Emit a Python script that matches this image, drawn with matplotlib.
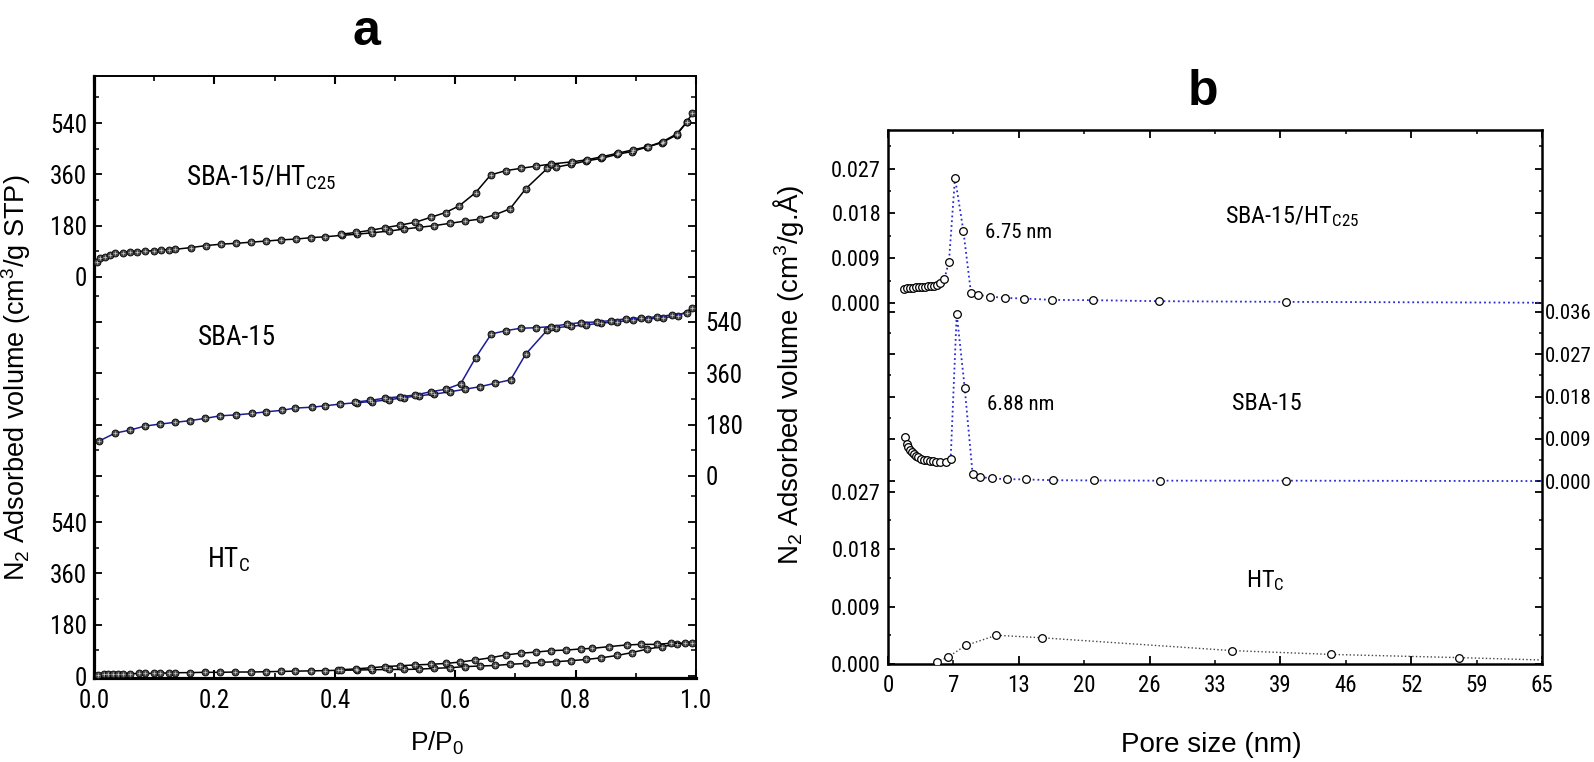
import numpy as np
import matplotlib
matplotlib.use('Agg')
import matplotlib.pyplot as plt
from matplotlib import font_manager

# ---------------- data: panel a, N2 isotherms (cm3/g STP vs P/P0) ----------------
htc25_p_ads = [0.005, 0.010, 0.018, 0.027, 0.035, 0.049, 0.060, 0.071, 0.085, 0.099, 0.111, 0.124,
               0.135, 0.161, 0.186, 0.211, 0.236, 0.261, 0.286, 0.311, 0.336, 0.361, 0.384, 0.412,
               0.437, 0.462, 0.490, 0.515, 0.540, 0.565, 0.591, 0.616, 0.641, 0.666, 0.691, 0.717,
               0.753, 0.767, 0.792, 0.818, 0.843, 0.869, 0.893, 0.918, 0.943, 0.968, 0.985, 0.994]
htc25_v_ads = [54, 66, 71, 77, 83, 85, 87, 89, 91, 92, 95, 96,
               97, 103, 110, 115, 118, 122, 126, 130, 133, 138, 141, 146,
               150, 155, 161, 168, 174, 180, 188, 196, 203, 218, 239, 309,
               381, 385, 395, 407, 416, 430, 440, 455, 471, 498, 545, 574]
htc25_p_des = [0.985, 0.968, 0.945, 0.920, 0.895, 0.870, 0.844, 0.819, 0.794, 0.759, 0.735, 0.709,
               0.684, 0.659, 0.634, 0.607, 0.584, 0.559, 0.534, 0.509, 0.484, 0.460, 0.435, 0.410]
htc25_v_des = [544, 502, 475, 457, 446, 434, 422, 411, 404, 396, 389, 381,
               373, 358, 296, 250, 226, 209, 192, 182, 173, 164, 156, 150]

sba_p_ads = [0.009, 0.035, 0.060, 0.085, 0.110, 0.135, 0.160, 0.185, 0.210, 0.236,
             0.262, 0.286, 0.312, 0.334, 0.362, 0.384, 0.409, 0.437, 0.462, 0.490,
             0.515, 0.540, 0.565, 0.591, 0.616, 0.641, 0.666, 0.692, 0.717, 0.753,
             0.767, 0.792, 0.818, 0.843, 0.869, 0.895, 0.920, 0.945, 0.970, 0.994]
sba_v_ads = [123, 150, 161, 175, 182, 188, 194, 202, 211, 214,
             219, 225, 230, 238, 241, 246, 252, 257, 261, 267,
             275, 281, 287, 295, 304, 313, 325, 337, 427, 512,
             520, 525, 530, 536, 541, 547, 551, 555, 561, 588]
sba_p_des = [0.985, 0.960, 0.935, 0.908, 0.884, 0.859, 0.835, 0.809, 0.785, 0.759, 0.735,
             0.709, 0.685, 0.660, 0.634, 0.609, 0.584, 0.559, 0.534, 0.509, 0.484, 0.459, 0.434]
sba_v_des = [571, 565, 558, 554, 551, 545, 540, 538, 532, 524, 520,
             518, 510, 498, 415, 323, 304, 295, 284, 278, 273, 265, 259]

htc_p_ads = [0.007, 0.016, 0.024, 0.032, 0.040, 0.049, 0.060, 0.074, 0.085, 0.099,
             0.110, 0.124, 0.135, 0.160, 0.185, 0.210, 0.235, 0.260, 0.285, 0.310,
             0.334, 0.360, 0.384, 0.406, 0.437, 0.462, 0.490, 0.515, 0.540, 0.565,
             0.591, 0.616, 0.641, 0.666, 0.691, 0.717, 0.742, 0.767, 0.793, 0.818,
             0.843, 0.869, 0.893, 0.918, 0.943, 0.968, 0.994]
htc_v_ads = [3.5, 5.8, 7, 7, 7, 8, 8, 9, 9, 9.5,
             10.5, 10.5, 11.5, 12, 13, 13, 14, 14, 15, 16,
             17, 18, 19, 20, 21, 22, 23, 23, 24, 27,
             29, 33, 35, 37, 41, 44, 48, 50, 54, 58,
             64, 72, 82, 94, 103, 111, 117]
htc_p_des = [0.982, 0.958, 0.935, 0.908, 0.885, 0.855, 0.828, 0.809, 0.784, 0.759, 0.735, 0.709,
             0.684, 0.659, 0.633, 0.608, 0.584, 0.559, 0.534, 0.509, 0.484, 0.460, 0.435, 0.410]
htc_v_des = [115, 115, 111, 111, 109, 103, 97, 95, 91, 89, 84, 80,
             74, 64, 56, 49, 44, 41, 39, 36, 33, 29, 25, 22]

iso_ticks = [0, 180, 360, 540]
pp0_ticks = [0.0, 0.2, 0.4, 0.6, 0.8, 1.0]

# ---------------- data: panel b, pore size distribution (cm3/g.A vs nm) ----------------
htc25_pore = [1.6, 1.9, 2.2, 2.5, 2.8, 3.1, 3.4, 3.7, 4.0, 4.3, 4.6, 4.9, 5.17, 5.6, 6.06,
              6.66, 7.49, 8.25, 8.98, 10.14, 11.63, 13.55, 16.33, 20.4, 26.9, 39.6, 70.0]
htc25_psd = [0.0028, 0.0029, 0.0030, 0.0030, 0.0031, 0.0031, 0.0032, 0.0032, 0.0033, 0.0033,
             0.0034, 0.0036, 0.0041, 0.0048, 0.0083, 0.0252, 0.0145, 0.00195, 0.0016, 0.00127,
             0.0010, 0.00087, 0.0006, 0.00054, 0.00034, 0.0002, 0.0]
sba_pore = [1.69, 1.85, 2.0, 2.2, 2.4, 2.6, 2.8, 3.0, 3.3, 3.6, 3.9, 4.2, 4.5, 4.8, 5.17,
            5.76, 6.23, 6.83, 7.62, 8.41, 9.14, 10.3, 11.8, 13.7, 16.4, 20.5, 27.0, 39.6, 70.0]
sba_psd = [0.0093, 0.0080, 0.0072, 0.0066, 0.0061, 0.0057, 0.0054, 0.0051, 0.0048, 0.0046,
           0.0044, 0.0043, 0.0042, 0.0041, 0.0041, 0.0040, 0.0048, 0.0356, 0.0199, 0.0015,
           0.0009, 0.00057, 0.00043, 0.00036, 0.0002, 0.00015, 0.0001, 0.0001, 0.0]
htc_pore = [4.84, 5.93, 7.72, 10.77, 15.34, 34.16, 44.03, 56.75, 70.0]
htc_psd = [0.00036, 0.00105, 0.0029, 0.0045, 0.0041, 0.0021, 0.0015, 0.0010, 0.0004]

pore_ticks = [0, 6.5, 13, 19.5, 26, 32.5, 39, 45.5, 52, 58.5, 65]
pore_labels = ['0', '7', '13', '20', '26', '33', '39', '46', '52', '59', '65']
psd_ticks_3 = [0.0, 0.009, 0.018, 0.027]
psd_ticks_4 = [0.0, 0.009, 0.018, 0.027, 0.036]

# ---------------- fonts ----------------
names = {f.name for f in font_manager.fontManager.ttflist}
narrow = 'Liberation Sans'
for cand in ['Liberation Sans Narrow', 'Arimo Narrow', 'Roboto Condensed', 'Archivo Narrow',
             'PT Sans Narrow', 'Pragati Narrow']:
    if cand in names:
        narrow = cand
        break
regular = 'Liberation Sans'
plt.rcParams['font.family'] = [narrow, 'DejaVu Sans']
plt.rcParams['mathtext.fontset'] = 'custom'
plt.rcParams['mathtext.rm'] = narrow
plt.rcParams['mathtext.it'] = narrow
plt.rcParams['mathtext.bf'] = narrow
plt.rcParams['mathtext.default'] = 'regular'

W, H = 1594, 762
fig = plt.figure(figsize=(W / 100, H / 100), dpi=100)


def px_rect(l, t, r, b):
    return [l / W, 1 - b / H, (r - l) / W, (b - t) / H]


def ftext(x, y, s, **kw):
    return fig.text(x / W, 1 - y / H, s, **kw)


def overlay(base, rect, ylim):
    ax = fig.add_axes(rect)
    ax.set_xlim(base.get_xlim())
    ax.set_ylim(*ylim)
    ax.patch.set_visible(False)
    for sp in ax.spines.values():
        sp.set_visible(False)
    ax.tick_params(axis='x', which='both', bottom=False, top=False, labelbottom=False)
    return ax


def yblock(ax, major, minor, fmt, side, size, mlen, nlen, pad):
    ax.set_yticks(major, [fmt.format(v) for v in major])
    ax.set_yticks(minor, minor=True)
    ax.tick_params(axis='y', which='both', direction='in', left=True, right=True,
                   labelleft=(side == 'left'), labelright=(side == 'right'),
                   labelsize=size, pad=pad)
    ax.tick_params(axis='y', which='major', length=mlen, width=1.3)
    ax.tick_params(axis='y', which='minor', length=nlen, width=1.1)


# ================= panel a =================
rect_a = px_rect(94, 76, 696, 678)
ax_a = fig.add_axes(rect_a)
ax_a.set_xlim(0, 1.0)
ax_a.set_ylim(-7, 2105)
ax_a_mid = overlay(ax_a, rect_a, (-709, 1403))
ax_a_top = overlay(ax_a, rect_a, (-1407, 705))

iso_minor = [90, 270, 450, 630]
yblock(ax_a, iso_ticks, iso_minor, '{:d}', 'left', 18, 6, 3.5, 5)
yblock(ax_a_mid, iso_ticks, iso_minor, '{:d}', 'right', 18, 6, 3.5, 7)
yblock(ax_a_top, iso_ticks, iso_minor, '{:d}', 'left', 18, 6, 3.5, 5)

ax_a.set_xticks(pp0_ticks, ['{:.1f}'.format(v) for v in pp0_ticks])
ax_a.set_xticks(np.arange(0.1, 1.0, 0.2), minor=True)
ax_a.tick_params(axis='x', which='both', direction='in', top=True, bottom=True,
                 labelsize=18, pad=8)
ax_a.tick_params(axis='x', which='major', length=6, width=1.5)
ax_a.tick_params(axis='x', which='minor', length=3.5, width=1.2)
for s in ['left', 'bottom']:
    ax_a.spines[s].set_linewidth(2.3)
for s in ['top', 'right']:
    ax_a.spines[s].set_linewidth(1.4)


def iso(ax, p, v, color):
    ax.plot(p, v, '-', color=color, lw=1.1, marker='o', ms=5, mfc='#4a4a4a',
            mec='black', mew=0.6, zorder=3)
    ax.plot(p, v, ls='none', marker='+', ms=3.4, mec='#c8c8c8', mew=0.5, zorder=4)


iso(ax_a_top, htc25_p_ads, htc25_v_ads, 'black')
iso(ax_a_top, htc25_p_des, htc25_v_des, 'black')
iso(ax_a_mid, sba_p_ads, sba_v_ads, '#1c1c96')
iso(ax_a_mid, sba_p_des, sba_v_des, '#1c1c96')
iso(ax_a, htc_p_ads, htc_v_ads, 'black')
iso(ax_a, htc_p_des, htc_v_des, 'black')

ftext(186, 185, 'SBA-15/HT$_{C25}$', fontsize=19.5, va='baseline')
ftext(198, 345, 'SBA-15', fontsize=19.5, va='baseline')
ftext(207, 567, 'HT$_{C}$', fontsize=19.5, va='baseline')
ftext(16, 378, 'N$_2$ Adsorbed volume (cm$^3$/g STP)', fontsize=19.5, rotation=90,
      ha='center', va='center', family=regular)
ftext(437, 743, 'P/P$_0$', fontsize=19, ha='center', va='center', family=regular)
ftext(366, 45, 'a', fontsize=36, fontweight='bold', ha='center', va='baseline',
      family=regular)

# ================= panel b =================
rect_b = px_rect(888, 130, 1542, 664)
ax_b = fig.add_axes(rect_b)
ax_b.set_xlim(0, 65)
ax_b.set_ylim(0, 0.0836)
ax_b_mid = overlay(ax_b, rect_b, (-0.0389, 0.0747))
ax_b_top = overlay(ax_b, rect_b, (-0.0727, 0.0348))

yblock(ax_b, psd_ticks_3, [0.0045, 0.0135, 0.0225], '{:.3f}', 'left', 16, 5, 2.5, 5)
yblock(ax_b_mid, psd_ticks_4, [0.0045, 0.0135, 0.0225, 0.0315], '{:.3f}', 'right', 15, 5, 2.5, 2)
yblock(ax_b_top, psd_ticks_3, [0.0045, 0.0135, 0.0225, 0.0315], '{:.3f}', 'left', 16, 5, 2.5, 5)

ax_b.set_xticks(pore_ticks[::2], pore_labels[::2])
ax_b.set_xticks(pore_ticks[1::2], pore_labels[1::2], minor=True)
ax_b.tick_params(axis='x', which='both', direction='in', top=True, bottom=True,
                 labelsize=16.5, pad=7)
ax_b.tick_params(axis='x', which='major', length=5.5, width=1.3)
ax_b.tick_params(axis='x', which='minor', length=3, width=1.1)
for s in ax_b.spines.values():
    s.set_linewidth(1.8)

psd_marker = dict(marker='o', ms=5.5, mfc='white', mec='black', mew=0.9, zorder=3)
ax_b_top.plot(htc25_pore, htc25_psd, ls=':', color='#2b2bd6', lw=1.3, **psd_marker)
ax_b_mid.plot(sba_pore, sba_psd, ls=':', color='#2b2bd6', lw=1.3, **psd_marker)
ax_b.plot(htc_pore, htc_psd, ls=':', color='#444444', lw=1.0, **psd_marker)

ftext(985, 238, '6.75 nm', fontsize=15, va='baseline')
ftext(987, 410, '6.88 nm', fontsize=15, va='baseline')
ftext(1225, 223, 'SBA-15/HT$_{C25}$', fontsize=17.5, va='baseline')
ftext(1232, 410, 'SBA-15', fontsize=17.5, va='baseline')
ftext(1246, 587, 'HT$_{C}$', fontsize=17.5, va='baseline')
ftext(789, 375, 'N$_2$ Adsorbed volume (cm$^3$/g.Å)', fontsize=20, rotation=90,
      ha='center', va='center', family=regular)
ftext(1211, 745, 'Pore size (nm)', fontsize=20, ha='center', va='center', family=regular)
ftext(1203, 105, 'b', fontsize=36, fontweight='bold', ha='center', va='baseline',
      family=regular)

fig.savefig('out.png', dpi=100)
